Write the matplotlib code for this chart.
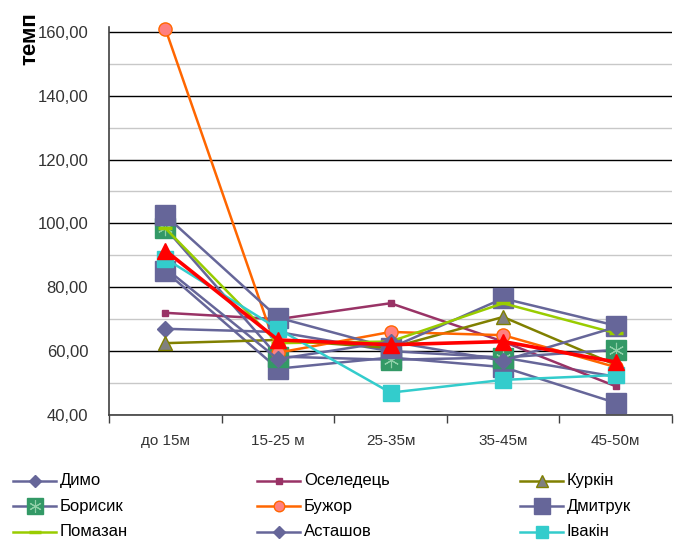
import numpy as np
import matplotlib
matplotlib.use("Agg")
import matplotlib.pyplot as plt

# Дані
categories = ["до 15м", "15-25 м", "25-35м", "35-45м", "45-50м"]

dymo = [67, 66, 60, 58, 52]
oseledets = [72, 70, 75, 63, 49]
kurkin = [62.5, 63.5, 61, 70.7, 55.7]
borysyk = [98.5, 58.3, 57.3, 58, 60.4]
buzhor = [161, 59.5, 66, 65, 55]
dmytruk = [102.5, 70.5, 61, 76.5, 68]
pomazan = [98.5, 62.5, 63, 75, 65.6]
astashov = [86, 57.5, 63, 57, 67.5]
ivakin = [89, 67, 47, 51, 52.5]
# ряди, яких не видно в легенді (обрізано)
red_series = [91.5, 63.5, 62, 63, 56.6]
extra_series = [85, 54.5, 58, 55, 43.8]

names = ["Димо", "Оселедець", "Куркін", "Борисик", "Бужор",
         "Дмитрук", "Помазан", "Асташов", "Івакін"]

plt.rcParams['font.family'] = ['Liberation Sans', 'DejaVu Sans']

fig = plt.figure(figsize=(6.82, 5.41), dpi=100)
ax = fig.add_axes([109/682, 1-415/541, (672-109)/682, (415-27)/541])

x = np.arange(len(categories))

# стилі рядів
styles = {
    "Димо": dict(color="#666699", marker="D", ms=8, mfc="#666699", mec="#666699", lw=1.8),
    "Оселедець": dict(color="#993366", marker="s", ms=5, mfc="#993366", mec="#993366", lw=1.8),
    "Куркін": dict(color="#808000", marker="^", ms=10, mfc="#808080", mec="#808000", lw=1.8),
    "Борисик": dict(color="#666699", marker="s", ms=14, mfc="#339966", mec="#339966", lw=1.8),
    "Бужор": dict(color="#FF6600", marker="o", ms=9.5, mfc="#FF8080", mec="#FF6600", lw=1.8),
    "Дмитрук": dict(color="#666699", marker="s", ms=14, mfc="#666699", mec="#666699", lw=1.8),
    "Помазан": dict(color="#99CC00", marker="_", ms=10, mfc="#99CC00", mec="#99CC00", lw=1.8, mew=2.5),
    "Асташов": dict(color="#666699", marker="D", ms=8, mfc="#666699", mec="#666699", lw=1.8),
    "Івакін": dict(color="#33CCCC", marker="s", ms=11, mfc="#33CCCC", mec="#33CCCC", lw=1.8),
}
series = [dymo, oseledets, kurkin, borysyk, buzhor, dmytruk, pomazan, astashov, ivakin]

ax.plot(x, extra_series, color="#666699", marker="s", ms=14, lw=1.8, clip_on=False)
for name, vals in zip(names, series):
    ax.plot(x, vals, clip_on=False, **styles[name])
    if name == "Борисик":
        ax.plot(x, vals, ls="none", marker=(6, 2, 0), ms=11, mec="#8FD0A8", mew=0.8, clip_on=False)
ax.plot(x, red_series, color="#FF0000", marker="^", ms=11, lw=2.6, clip_on=False)

ax.set_xlim(-0.5, 4.5)
ax.set_ylim(40, 161.5)

ax.set_yticks(np.arange(40, 161, 20))
ax.set_yticks(np.arange(50, 161, 20), minor=True)
ax.set_yticklabels(["%d,00" % v for v in range(40, 161, 20)])
ax.yaxis.grid(True, which="major", color="#000000", lw=1)
ax.yaxis.grid(True, which="minor", color="#C8C8C8", lw=1)
ax.set_axisbelow(True)
ax.tick_params(axis="y", which="both", length=0, labelsize=12, colors="#333333", pad=15)

ax.set_xticks(x)
ax.set_xticklabels(categories)
ax.set_xticks(np.arange(-0.5, 4.6, 1), minor=True)
ax.tick_params(axis="x", which="major", length=0, labelsize=11, colors="#333333", pad=14)
ax.tick_params(axis="x", which="minor", length=6, color="#404040", width=1)

for s in ["top", "right"]:
    ax.spines[s].set_visible(False)
for s in ["left", "bottom"]:
    ax.spines[s].set_color("#404040")
    ax.spines[s].set_linewidth(1.2)

fig.text(30/682, 1-12/541, "темп", rotation=90, ha="center", va="top",
         fontsize=16, fontweight="bold", color="#000000")

# легенда вручну, по рядках
lax = fig.add_axes([0, 0, 1, 1])
lax.set_xlim(0, 682)
lax.set_ylim(541, 0)
lax.axis("off")
col_x = [13, 257, 520]
row_y = [481, 506, 532]
for i, name in enumerate(names):
    cx = col_x[i % 3]
    ry = row_y[i // 3]
    st = dict(styles[name])
    st["ms"] = st["ms"] * 0.8
    line_col = st.pop("color")
    lax.plot([cx, cx + 43], [ry, ry], color=line_col, lw=1.8)
    lax.plot([cx + 21.5], [ry], ls="none", **{k: v for k, v in st.items() if k != "lw"})
    if name == "Борисик":
        lax.plot([cx + 21.5], [ry], ls="none", marker=(6, 2, 0), ms=9, mec="#8FD0A8", mew=0.8)
    lax.text(cx + 47, ry, name, fontsize=12, va="center", ha="left", color="#000000")

fig.savefig("out.png", dpi=100)
